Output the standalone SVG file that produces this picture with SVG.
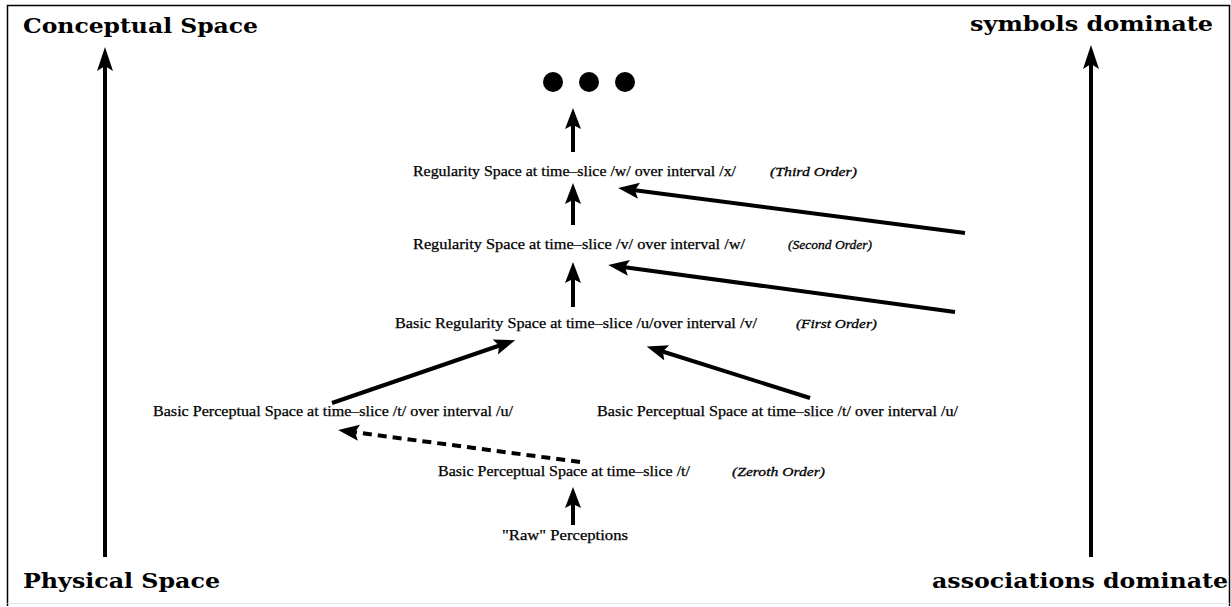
<svg xmlns="http://www.w3.org/2000/svg" width="1231" height="607" viewBox="0 0 1231 607">
<style>
.head{font-family:"DejaVu Serif","Liberation Serif",serif;font-weight:bold;font-size:20px;fill:#000}
.lbl{font-family:"Liberation Serif","Times New Roman",serif;font-size:14px;fill:#000;stroke:#000;stroke-width:0.25}
.ord{font-family:"Liberation Serif","Times New Roman",serif;font-style:italic;font-size:13px;fill:#000;stroke:#000;stroke-width:0.3}
.ln{stroke:#000;stroke-width:4;fill:none}
.big{stroke:#000;stroke-width:4;fill:none}
.dash{stroke:#000;stroke-width:4;fill:none;stroke-dasharray:9 6}
</style>
<defs>
<marker id="ah" markerUnits="userSpaceOnUse" markerWidth="24" markerHeight="18" refX="6" refY="8" orient="auto">
<path d="M0,0 L21,8 L0,16 L4,8 z" fill="#000"/>
</marker>
<marker id="ahBig" markerUnits="userSpaceOnUse" markerWidth="26" markerHeight="18" refX="8" refY="8" orient="auto">
<path d="M0,0 L24,8 L0,16 L5,8 z" fill="#000"/>
</marker>
</defs>
<rect width="1231" height="607" fill="#fff"/>
<g id="frame">
<path d="M7.5,606 V5.5 H1229.5 V606" fill="none" stroke="#000" stroke-width="1.5"/>
<line x1="7.5" y1="603.5" x2="1229.5" y2="603.5" stroke="#e6e6e6" stroke-width="1"/>
</g>
<g id="axis-left">
<text class="head" x="23" y="33" textLength="235" lengthAdjust="spacingAndGlyphs">Conceptual Space</text>
<text class="head" x="23" y="588" textLength="197" lengthAdjust="spacingAndGlyphs">Physical Space</text>
</g>
<g id="axis-right">
<text class="head" x="970" y="31" textLength="243" lengthAdjust="spacingAndGlyphs">symbols dominate</text>
<text class="head" x="932" y="588" textLength="296" lengthAdjust="spacingAndGlyphs">associations dominate</text>
</g>
<g id="dots">
<circle cx="553" cy="82" r="10" fill="#000"/>
<circle cx="589" cy="82" r="10" fill="#000"/>
<circle cx="625" cy="82" r="10" fill="#000"/>
</g>
<g id="third-order">
<text class="lbl" x="413" y="176" textLength="323" lengthAdjust="spacingAndGlyphs">Regularity Space at time–slice /w/ over interval /x/</text>
<text class="ord" x="770" y="176" textLength="87" lengthAdjust="spacingAndGlyphs">(Third Order)</text>
</g>
<g id="second-order">
<text class="lbl" x="413" y="249" textLength="332" lengthAdjust="spacingAndGlyphs">Regularity Space at time–slice /v/ over interval /w/</text>
<text class="ord" x="788" y="249" textLength="84" lengthAdjust="spacingAndGlyphs">(Second Order)</text>
</g>
<g id="first-order">
<text class="lbl" x="395" y="328" textLength="362" lengthAdjust="spacingAndGlyphs">Basic Regularity Space at time–slice /u/over interval /v/</text>
<text class="ord" x="796" y="328" textLength="81" lengthAdjust="spacingAndGlyphs">(First Order)</text>
</g>
<g id="perceptual-left">
<text class="lbl" x="153" y="416" textLength="360" lengthAdjust="spacingAndGlyphs">Basic Perceptual Space at time–slice /t/ over interval /u/</text>
</g>
<g id="perceptual-right">
<text class="lbl" x="597" y="416" textLength="361" lengthAdjust="spacingAndGlyphs">Basic Perceptual Space at time–slice /t/ over interval /u/</text>
</g>
<g id="zeroth-order">
<text class="lbl" x="438" y="476" textLength="252" lengthAdjust="spacingAndGlyphs">Basic Perceptual Space at time–slice /t/</text>
<text class="ord" x="732" y="476" textLength="93" lengthAdjust="spacingAndGlyphs">(Zeroth Order)</text>
</g>
<g id="raw">
<text class="lbl" x="502" y="540" textLength="126" lengthAdjust="spacingAndGlyphs">"Raw" Perceptions</text>
</g>
<g id="connectors">
<line class="big" x1="105" y1="557" x2="105" y2="63" marker-end="url(#ahBig)"/>
<line class="big" x1="1091" y1="557" x2="1091" y2="61" marker-end="url(#ahBig)"/>
<line class="ln" x1="573" y1="152" x2="573" y2="123" marker-end="url(#ah)"/>
<line class="ln" x1="573" y1="225" x2="573" y2="198" marker-end="url(#ah)"/>
<line class="ln" x1="573" y1="307" x2="573" y2="277" marker-end="url(#ah)"/>
<line class="ln" x1="573" y1="525" x2="573" y2="502" marker-end="url(#ah)"/>
<line class="ln" x1="965" y1="233" x2="633" y2="190" marker-end="url(#ah)"/>
<line class="ln" x1="955" y1="312" x2="623" y2="267" marker-end="url(#ah)"/>
<line class="ln" x1="332" y1="403" x2="501" y2="345" marker-end="url(#ah)"/>
<line class="ln" x1="810" y1="398" x2="661" y2="351" marker-end="url(#ah)"/>
<line class="dash" x1="580" y1="462" x2="353" y2="432" marker-end="url(#ah)"/>
</g>
</svg>
